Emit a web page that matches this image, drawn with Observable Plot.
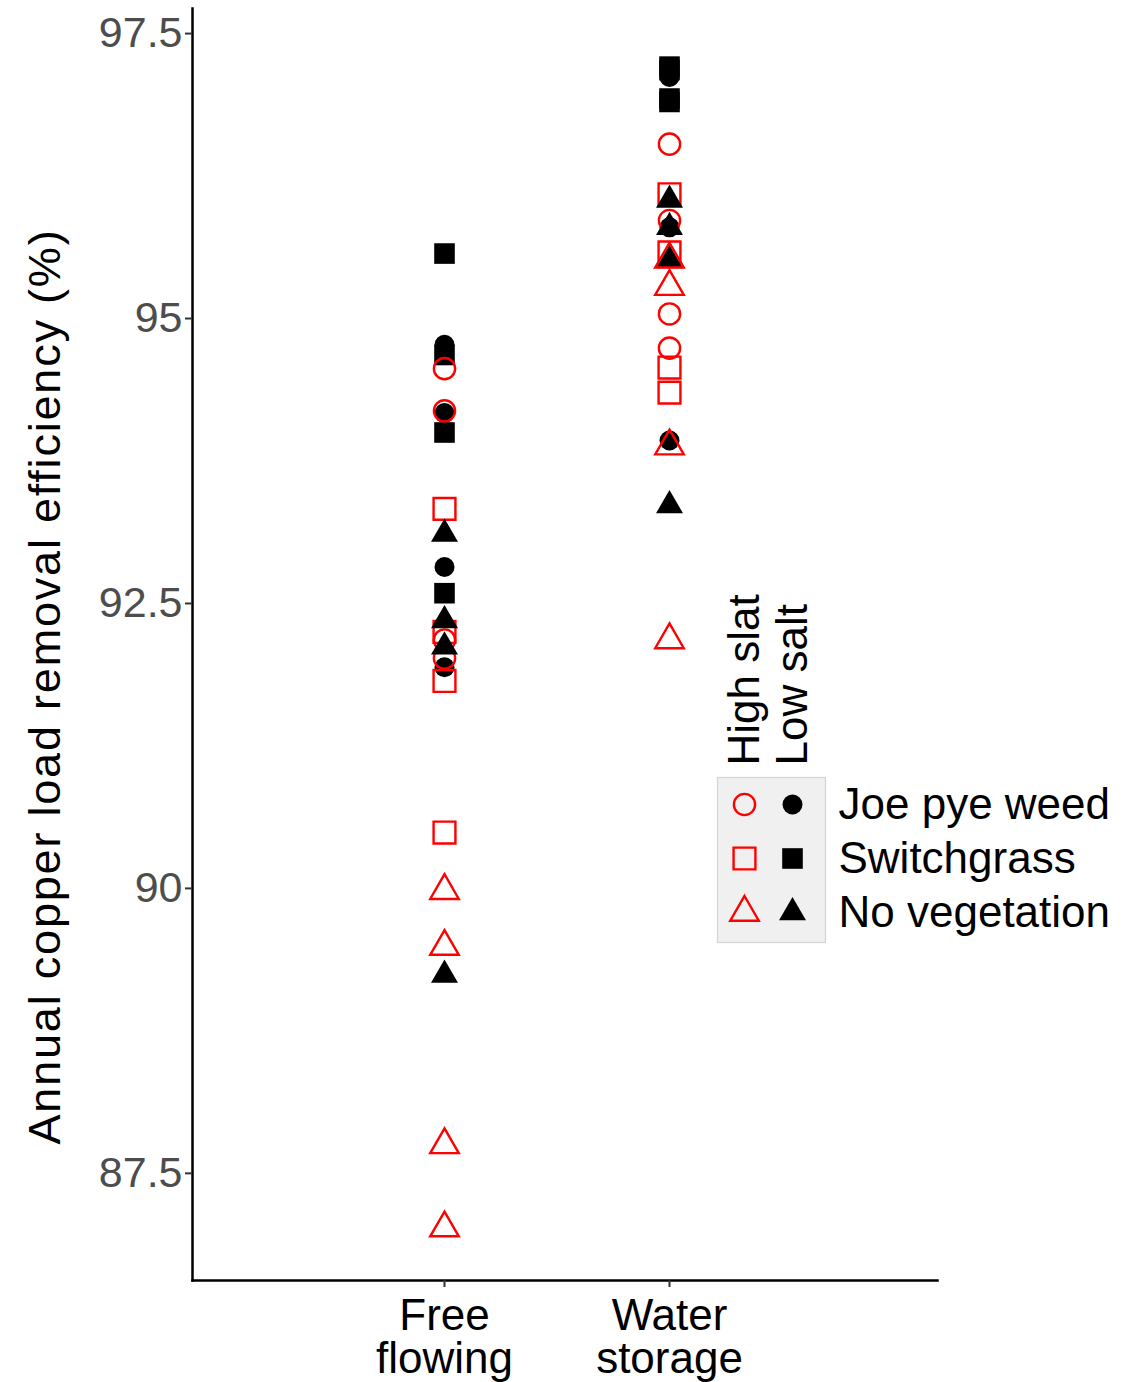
<!DOCTYPE html>
<html>
<head>
<meta charset="utf-8">
<script src="https://cdn.jsdelivr.net/npm/d3@7"></script>
<script src="https://cdn.jsdelivr.net/npm/@observablehq/plot@0.6"></script>
<style>
  body { margin: 0; background: #fff; font-family: "Liberation Sans", Arial, sans-serif; }
  #wrap { position: relative; width: 1132px; height: 1382px; }
  #legend { position: absolute; left: 716px; top: 590px; }
</style>
</head>
<body>
<div id="wrap">
  <div id="chart"></div>
  <div id="legend"></div>
</div>
<script>
// Categories and tick labels
const flows = ["Free flowing", "Water storage"];
const flowLabels = ["Free\nflowing", "Water\nstorage"];
const salts = ["High slat", "Low salt"];
const plants = ["Joe pye weed", "Switchgrass", "No vegetation"];
const yTicks = [87.5, 90, 92.5, 95, 97.5];
const yTickLabels = ["87.5", "90", "92.5", "95", "97.5"];
const yTitle = "Annual copper load removal efficiency (%)";

// Free flowing removal efficiency (%)
const freeHighJoe = [94.56, 94.19, 92.18, 92.02];
const freeLowJoe = [94.77, 94.17, 92.82, 91.94];
const freeHighSwitch = [93.33, 92.25, 91.82, 90.49];
const freeLowSwitch = [95.57, 94.68, 94.0, 92.59];
const freeHighNone = [89.98, 89.49, 87.75, 87.02];
const freeLowNone = [93.11, 92.35, 92.12, 89.24];

// Water storage removal efficiency (%)
const storeHighJoe = [96.53, 95.86, 95.04, 94.74];
const storeLowJoe = [97.12, 96.92, 95.8, 93.93];
const storeHighSwitch = [96.09, 95.58, 94.57, 94.35];
const storeLowSwitch = [97.21, 97.18, 96.93, 96.9];
const storeHighNone = [95.52, 95.28, 93.88, 92.18];
const storeLowNone = [96.04, 95.8, 95.51, 93.36];

const groups = [
  [flows[0], salts[0], plants[0], freeHighJoe],
  [flows[0], salts[1], plants[0], freeLowJoe],
  [flows[0], salts[0], plants[1], freeHighSwitch],
  [flows[0], salts[1], plants[1], freeLowSwitch],
  [flows[0], salts[0], plants[2], freeHighNone],
  [flows[0], salts[1], plants[2], freeLowNone],
  [flows[1], salts[0], plants[0], storeHighJoe],
  [flows[1], salts[1], plants[0], storeLowJoe],
  [flows[1], salts[0], plants[1], storeHighSwitch],
  [flows[1], salts[1], plants[1], storeLowSwitch],
  [flows[1], salts[0], plants[2], storeHighNone],
  [flows[1], salts[1], plants[2], storeLowNone]
];
const rows = groups.flatMap(([flow, salt, plant, vals]) =>
  vals.map(value => ({flow, salt, plant, value})));

// Point shapes in the R style: circle, square, centred triangle
const circleSym = {draw(ctx, size) { const r = Math.sqrt(size / Math.PI); ctx.moveTo(r, 0); ctx.arc(0, 0, r, 0, 2 * Math.PI); ctx.closePath(); }};
const squareSym = {draw(ctx, size) { const h = Math.sqrt(size / Math.PI) * 1.03; ctx.rect(-h, -h, 2 * h, 2 * h); }};
const triangleSym = {draw(ctx, size) { const r = Math.sqrt(size / Math.PI); ctx.moveTo(0, -1.555 * r); ctx.lineTo(1.347 * r, 0.778 * r); ctx.lineTo(-1.347 * r, 0.778 * r); ctx.closePath(); }};
const shapeOf = {[plants[0]]: circleSym, [plants[1]]: squareSym, [plants[2]]: triangleSym};

const R_FILLED = 10;
const R_OPEN = 10.6;
function dotStyle(salt, plant) {
  return salt === salts[0]
    ? {symbol: shapeOf[plant], r: R_OPEN, fill: "none", stroke: "#ff0000", strokeWidth: 2.4}
    : {symbol: shapeOf[plant], r: R_FILLED, fill: "#000000", stroke: "none"};
}
// drawing order of the layers
const layerOrder = [
  [salts[1], plants[0]], [salts[1], plants[1]],
  [salts[0], plants[0]], [salts[0], plants[1]],
  [salts[1], plants[2]], [salts[0], plants[2]]
];
const dotMarks = layerOrder.map(([salt, plant]) =>
  Plot.dot(rows.filter(d => d.salt === salt && d.plant === plant),
    {x: "flow", y: "value", ...dotStyle(salt, plant)}));

const font = "Liberation Sans, Arial, Helvetica, sans-serif";

const chart = Plot.plot({
  width: 1132,
  height: 1382,
  marginLeft: 192,
  marginRight: 195,
  marginTop: 8,
  marginBottom: 102,
  style: {fontFamily: font, background: "#ffffff", overflow: "visible"},
  x: {type: "point", domain: flows, range: [444, 669], padding: 0},
  y: {domain: [86.56, 97.72]},
  marks: [
    Plot.frame({anchor: "left", stroke: "#000", strokeWidth: 2.5}),
    Plot.frame({anchor: "bottom", stroke: "#000", strokeWidth: 2.5}),
    Plot.axisY({ticks: yTicks, tickFormat: d => yTickLabels[yTicks.indexOf(d)],
      tickSize: 7, tickPadding: 3, fontSize: 43, fill: "#4d4d4d", stroke: "#333333", strokeWidth: 2, label: null}),
    Plot.axisX({tickFormat: d => flowLabels[flows.indexOf(d)],
      tickSize: 7, tickPadding: 12, fontSize: 44, lineHeight: 0.98, fill: "#000", stroke: "#333333", strokeWidth: 2, label: null}),
    Plot.text([yTitle], {text: d => d, frameAnchor: "left", textAnchor: "middle", dx: -147, dy: 42, rotate: -90, fontSize: 45, fill: "#000"}),
    ...dotMarks
  ]
});
// slightly wider tracking on the axis title
for (const t of chart.querySelectorAll("text")) {
  if (t.textContent === yTitle) t.style.letterSpacing = "1.8px";
}
document.getElementById("chart").append(chart);

// Legend: salt columns × vegetation rows
const legendKeys = salts.flatMap(salt => plants.map(plant => ({salt, plant})));
const legend = Plot.plot({
  width: 410,
  height: 360,
  marginLeft: 1,
  marginRight: 301,
  marginTop: 187,
  marginBottom: 8,
  style: {fontFamily: font, background: "transparent", overflow: "visible"},
  x: {type: "point", domain: salts, range: [28, 76], padding: 0, axis: null},
  y: {type: "point", domain: plants, range: [213, 322], padding: 0, axis: null},
  marks: [
    Plot.frame({fill: "#f0f0f0", stroke: "#d4d4d4", strokeWidth: 1.2}),
    ...legendKeys.map(k => Plot.dot([k], {x: "salt", y: "plant", ...dotStyle(k.salt, k.plant)})),
    Plot.text(salts, {x: d => d, text: d => d, frameAnchor: "top", dy: -12, rotate: -90,
      textAnchor: "start", lineAnchor: "middle", fontSize: 44, fill: "#000"}),
    Plot.text(plants, {y: d => d, text: d => d, frameAnchor: "right", dx: 13,
      textAnchor: "start", fontSize: 44, fill: "#000"})
  ]
});
document.getElementById("legend").append(legend);
</script>
</body>
</html>
